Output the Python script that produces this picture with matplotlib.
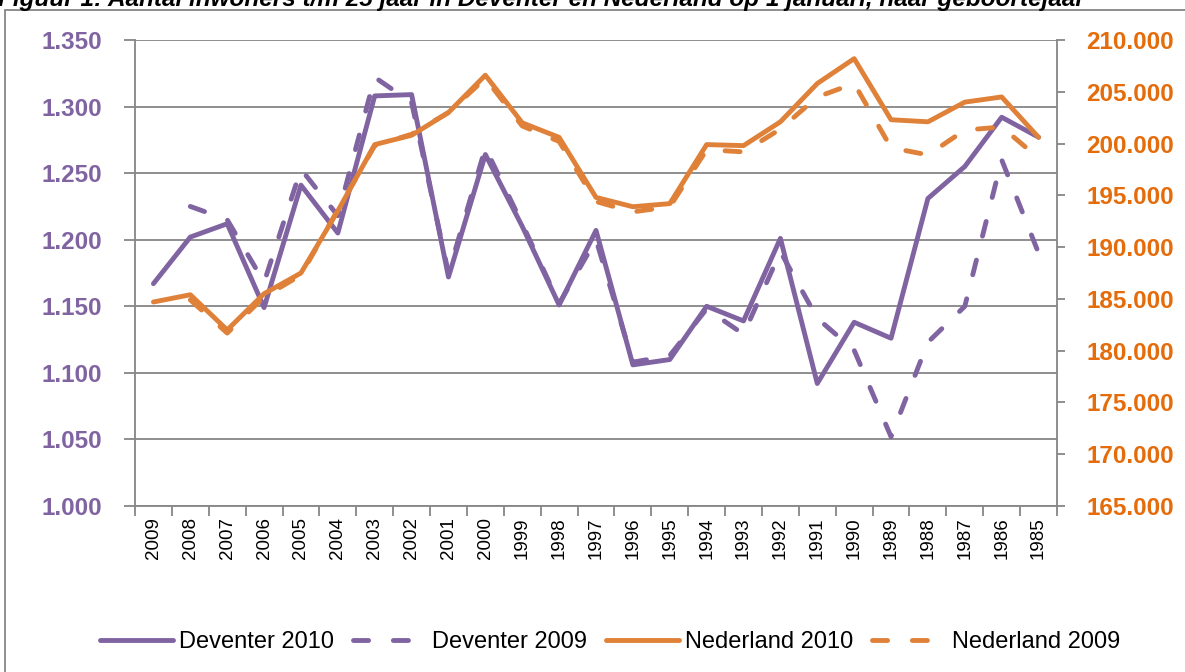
import numpy as np
import matplotlib
matplotlib.use('Agg')
import matplotlib.pyplot as plt
from matplotlib.lines import Line2D
from matplotlib.patches import Rectangle
from matplotlib.ticker import FuncFormatter

plt.rcParams['font.family'] = ['Liberation Sans', 'DejaVu Sans']

# ---------------- data ----------------
years = ['2009', '2008', '2007', '2006', '2005', '2004', '2003', '2002', '2001',
         '2000', '1999', '1998', '1997', '1996', '1995', '1994', '1993', '1992',
         '1991', '1990', '1989', '1988', '1987', '1986', '1985']

deventer_2010 = [1.167, 1.202, 1.212, 1.149, 1.241, 1.205, 1.308, 1.309, 1.172,
                 1.264, 1.210, 1.151, 1.207, 1.106, 1.110, 1.150, 1.139, 1.201,
                 1.092, 1.138, 1.126, 1.231, 1.255, 1.292, 1.277]
deventer_2009 = [np.nan, 1.225, 1.215, 1.168, 1.253, 1.218, 1.322, 1.303, 1.175,
                 1.269, 1.212, 1.152, 1.200, 1.108, 1.113, 1.148, 1.129, 1.191,
                 1.141, 1.117, 1.052, 1.123, 1.150, 1.260, 1.190]
nederland_2010 = [184700, 185400, 182000, 185500, 187500, 193500, 199900, 200800, 203000,
                  206600, 202000, 200600, 194800, 193900, 194200, 199900, 199800, 202100,
                  205800, 208200, 202300, 202100, 204000, 204500, 200600]
nederland_2009 = [np.nan, 184900, 181700, 185200, 187300, 193600, 199800, 200900, 203000,
                  206300, 201700, 200200, 194400, 193400, 193900, 199400, 199200, 201400,
                  204500, 205800, 199600, 198900, 201300, 201600, 198600]

series_labels = ['Deventer 2010', 'Deventer 2009', 'Nederland 2010', 'Nederland 2009']
left_ticks = [1.000, 1.050, 1.100, 1.150, 1.200, 1.250, 1.300, 1.350]
right_ticks = [165000, 170000, 175000, 180000, 185000, 190000, 195000, 200000, 205000, 210000]
title = 'Figuur 1: Aantal inwoners t/m 25 jaar in Deventer en Nederland op 1 januari, naar geboortejaar'

# ---------------- style ----------------
PURPLE = '#8064A2'
ORANGE = '#DF8138'
ORANGE_TXT = '#E46C0A'
GRAY = '#868686'
LW = 3.5
DASH = (3.1, 5.1)

W, H = 1185, 672
fig = plt.figure(figsize=(W / 100, H / 100), dpi=100)
fig.patch.set_facecolor('white')

ax = fig.add_axes([135 / W, 1 - 506 / H, (1057 - 135) / W, (506 - 40) / H])
ax2 = ax.twinx()

x = np.arange(len(years))

ax.plot(x, deventer_2010, color=PURPLE, lw=LW, solid_capstyle='round',
        solid_joinstyle='round', label=series_labels[0], zorder=3)
ax.plot(x, deventer_2009, color=PURPLE, lw=LW, dashes=DASH, dash_capstyle='round',
        label=series_labels[1], zorder=3)
ax2.plot(x, nederland_2010, color=ORANGE, lw=LW, solid_capstyle='round',
         solid_joinstyle='round', label=series_labels[2], zorder=3)
ax2.plot(x, nederland_2009, color=ORANGE, lw=LW, dashes=DASH, dash_capstyle='round',
         label=series_labels[3], zorder=3)

ax.set_xlim(-0.5, len(years) - 0.5)
ax.set_ylim(left_ticks[0], left_ticks[-1])
ax2.set_ylim(right_ticks[0], right_ticks[-1])

# x ticks: marks at category boundaries, labels at centres
ax.set_xticks(np.arange(-0.5, len(years), 1.0))
ax.set_xticklabels([])
ax.set_xticks(x, minor=True)
ax.set_xticklabels(years, minor=True, rotation=90, fontsize=13.5, color='black')
ax.tick_params(axis='x', which='major', length=7, width=1.3, color=GRAY, direction='out')
ax.tick_params(axis='x', which='minor', length=0, pad=8)

ax.set_yticks(left_ticks)
ax.yaxis.set_major_formatter(FuncFormatter(lambda v, p: f'{v:.3f}'))
ax.tick_params(axis='y', length=8, width=1.3, color=GRAY, direction='out',
               labelsize=17.5, labelcolor=PURPLE, pad=16)
for t in ax.get_yticklabels():
    t.set_fontweight('bold')

ax2.set_yticks(right_ticks)
ax2.yaxis.set_major_formatter(FuncFormatter(lambda v, p: f'{v:,.0f}'.replace(',', '.')))
ax2.tick_params(axis='y', length=6, width=1.3, color=GRAY, direction='out',
                labelsize=17.5, labelcolor=ORANGE_TXT, pad=15)
for t in ax2.get_yticklabels():
    t.set_fontweight('bold')

ax.yaxis.grid(True, color=GRAY, lw=1.3)
ax.set_axisbelow(True)

for s in ['top', 'right']:
    ax.spines[s].set_visible(False)
for s in ['left', 'bottom']:
    ax.spines[s].set_color(GRAY)
    ax.spines[s].set_linewidth(1.3)
for s in ['top', 'left', 'bottom']:
    ax2.spines[s].set_visible(False)
ax2.spines['right'].set_color(GRAY)
ax2.spines['right'].set_linewidth(1.3)

# legend
handles = [
    Line2D([], [], color=PURPLE, lw=LW, solid_capstyle='round'),
    Line2D([], [], color=PURPLE, lw=LW, dashes=DASH, dash_capstyle='round'),
    Line2D([], [], color=ORANGE, lw=LW, solid_capstyle='round'),
    Line2D([], [], color=ORANGE, lw=LW, dashes=DASH, dash_capstyle='round'),
]
fig.legend(handles, series_labels, loc='center', bbox_to_anchor=(610 / W, 1 - 642 / H),
           ncol=4, frameon=False, fontsize=17, handlelength=3.1, handletextpad=0.25,
           columnspacing=0.8)

# outer frame and clipped title
fig.add_artist(Rectangle((5 / W, -0.1), 1.2, 1.1 - 10 / H, transform=fig.transFigure,
                         fill=False, ec=GRAY, lw=1.3))
fig.text(-0.002, 1 - 6 / H, title, fontsize=17.5, fontweight='bold', fontstyle='italic',
         ha='left', va='baseline', color='black')

fig.savefig('out.png', dpi=100)
